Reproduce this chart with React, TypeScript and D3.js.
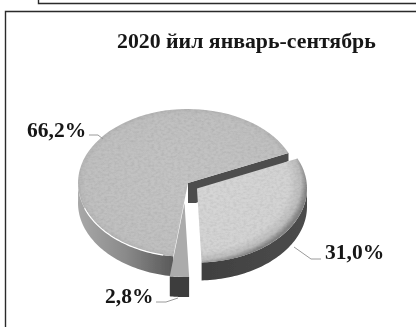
import React from "react";
import * as d3 from "d3";

const categories = ["b", "c", "a"];
const values = [31.0, 2.8, 66.2];
const labels = ["31,0%", "2,8%", "66,2%"];
const title = "2020 йил январь-сентябрь";

const W = 416, H = 327;
const rx = 110, ry = 74;
const rad = (d: number) => (d * Math.PI) / 180;
const pie = d3.pie<number>().sort(null).startAngle(rad(66)).endAngle(rad(426));
const arcs = pie(values);
const arc = d3.arc<any>().innerRadius(0).outerRadius(rx);
const centers: Record<string, [number, number]> = { a: [188, 183], b: [197, 188.5], c: [184.5, 203] };
const depths: Record<string, number> = { a: 20, b: 18, c: 20 };
const topFill: Record<string, string> = { a: "url(#ga)", b: "url(#gb)", c: "#ababab" };
const wallFill: Record<string, string> = { a: "url(#wa)", b: "url(#wb)", c: "#3c3c3c" };

const pt = (c: [number, number], a: number, dy = 0): [number, number] => [
  c[0] + rx * Math.sin(a),
  c[1] - ry * Math.cos(a) + dy,
];
function wallPath(c: [number, number], a0: number, a1: number, depth: number) {
  const n = 60;
  const s = d3.scaleLinear().domain([0, n]).range([a0, a1]);
  const top = d3.range(n + 1).map((i) => pt(c, s(i)));
  const bot = d3.range(n + 1).map((i) => pt(c, s(n - i), depth));
  return d3.line()([...top, ...bot]) + "Z";
}
function edgePath(c: [number, number], a0: number, a1: number) {
  const s = d3.scaleLinear().domain([0, 40]).range([a0, a1]);
  return d3.line()(d3.range(41).map((i) => pt(c, s(i))));
}
const leaders: [number, number][][] = [
  [[294, 247], [311, 259], [321, 259]],
  [[156, 302], [166, 302], [178, 298]],
  [[89, 135], [98, 135], [103, 139]],
];
const labelPos: [number, number][] = [[325, 259], [105, 303], [27, 137]];
const serif = "'Liberation Serif','Times New Roman',serif";

export default function App() {
  const [b, c, a] = arcs;
  const ca = centers.a, cb = centers.b, cc = centers.c;
  const cutA = pt(ca, a.endAngle);
  return (
    <svg width={W} height={H} style={{ position: "fixed", left: 0, top: 0, background: "#fff" }}>
      <defs>
        <radialGradient id="ga" cx="0" cy="0" r={rx} gradientUnits="userSpaceOnUse">
          <stop offset="0" stopColor="#c4c4c4" />
          <stop offset="0.93" stopColor="#c0c0c0" />
          <stop offset="1" stopColor="#b6b6b6" />
        </radialGradient>
        <radialGradient id="gb" cx="-12" cy="-8" r={rx + 12} gradientUnits="userSpaceOnUse">
          <stop offset="0" stopColor="#d6d6d6" />
          <stop offset="0.85" stopColor="#d3d3d3" />
          <stop offset="0.95" stopColor="#bcbcbc" />
          <stop offset="1" stopColor="#858585" />
        </radialGradient>
        <linearGradient id="wa" x1="0" x2="1" y1="0" y2="0">
          <stop offset="0" stopColor="#a8a8a8" />
          <stop offset="0.5" stopColor="#8a8a8a" />
          <stop offset="1" stopColor="#595959" />
        </linearGradient>
        <linearGradient id="wb" x1="0" x2="1" y1="0" y2="0">
          <stop offset="0" stopColor="#404040" />
          <stop offset="1" stopColor="#4c4c4c" />
        </linearGradient>
        <filter id="noise" x="-5%" y="-5%" width="110%" height="110%">
          <feTurbulence type="fractalNoise" baseFrequency="0.3" numOctaves="2" seed="4" result="n" />
          <feColorMatrix in="n" type="matrix" values="0 0 0 0 0  0 0 0 0 0  0 0 0 0 0  0.3 0 0 0 -0.11" result="m" />
          <feComposite in="m" in2="SourceAlpha" operator="in" result="t" />
          <feMerge>
            <feMergeNode in="SourceGraphic" />
            <feMergeNode in="t" />
          </feMerge>
        </filter>
        <filter id="soft" x="-5%" y="-5%" width="110%" height="110%">
          <feGaussianBlur stdDeviation="0.7" />
        </filter>
        <filter id="softText" x="-5%" y="-20%" width="110%" height="140%">
          <feGaussianBlur stdDeviation="0.45" />
        </filter>
      </defs>

      <g fill="none" stroke="#2a2a2a" strokeWidth={1.4} filter="url(#softText)">
        <path d={`M38.5,-2V3.5H418`} />
        <path d={`M5.5,329V11.5H418`} />
      </g>

      <g filter="url(#soft)">
        <path d={wallPath(ca, c.endAngle, rad(272), depths.a)} fill={wallFill.a} />
        <path
          d={d3.line()([ca, cutA, [cutA[0], cutA[1] + 8], [ca[0] + 8, ca[1] + depths.a], [ca[0], ca[1] + depths.a]])! + "Z"}
          fill="#4e4e4e"
        />
        <g transform={`translate(${ca[0]},${ca[1]}) scale(1,${ry / rx})`}>
          <path d={arc(a)!} fill={topFill.a} filter="url(#noise)" />
        </g>
        <path d={edgePath(ca, rad(193), rad(250))!} fill="none" stroke="#fff" strokeWidth={1.2} />

        <path d={wallPath(cb, rad(90), b.endAngle, depths.b)} fill={wallFill.b} />
        <g transform={`translate(${cb[0]},${cb[1]}) scale(1,${ry / rx})`}>
          <path d={arc(b)!} fill={topFill.b} filter="url(#noise)" />
        </g>

        <path d={wallPath(cc, c.startAngle, c.endAngle, depths.c)} fill={wallFill.c} />
        <g transform={`translate(${cc[0]},${cc[1]}) scale(1,${ry / rx})`}>
          <path d={arc(c)!} fill={topFill.c} />
        </g>

        <g fill="none" stroke="#9a9a9a" strokeWidth={1}>
          {leaders.map((l, i) => (
            <path key={categories[i]} d={d3.line()(l)!} />
          ))}
        </g>
      </g>

      <g filter="url(#softText)" fontFamily={serif} fontWeight="bold" fill="#151515">
        <text x={117} y={48} fontSize={21.8}>{title}</text>
        {labels.map((t, i) => (
          <text key={t} x={labelPos[i][0]} y={labelPos[i][1]} fontSize={21.5}>{t}</text>
        ))}
      </g>
    </svg>
  );
}
